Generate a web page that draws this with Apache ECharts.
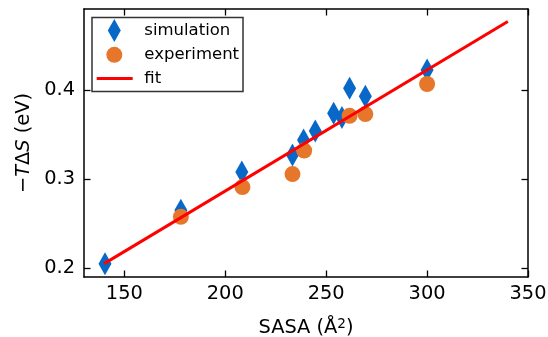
<!DOCTYPE html>
<html><head><meta charset="utf-8">
<script src="https://cdn.jsdelivr.net/npm/echarts@6/dist/echarts.min.js"></script>
<style>html,body{margin:0;padding:0;background:#fff}#c{width:548px;height:337px}</style>
</head><body><div id="c"></div>
<script>
const simSASA = [140.4, 178, 208.2, 233.3, 238.8, 244.6, 253.7, 257.8, 261.6, 269.4, 300];
const simTdS  = [0.205, 0.265, 0.308, 0.327, 0.344, 0.354, 0.374, 0.369, 0.402, 0.393, 0.4225];
const expSASA = [178, 208.5, 233.3, 239.1, 261.6, 269.4, 300];
const expTdS  = [0.2576, 0.291, 0.3056, 0.332, 0.371, 0.373, 0.4068];
const fitSASA = [140, 340];
const fitTdS  = [0.205, 0.477];
const xTicks = [150, 200, 250, 300, 350];
const yTicks = [0.2, 0.3, 0.4];

const FONT = 'DejaVu Sans';
const zip = (a, b) => a.map((v, i) => [v, b[i]]);

function xAx(pos, labels) {
  return {
    type: 'value', position: pos, min: 130, max: 350, gridIndex: 0,
    name: labels ? '{m|SASA (Å}{s|2}{m|)}' : '', nameLocation: 'middle', nameGap: 40,
    nameTextStyle: {fontFamily: FONT, fontSize: 19.4, color: '#000',
      rich: {m: {fontFamily: FONT, fontSize: 19.4, color: '#000', lineHeight: 22},
             s: {fontFamily: FONT, fontSize: 13.6, color: '#000', verticalAlign: 'top', lineHeight: 14}}},
    axisLine: {show: true, onZero: false, lineStyle: {color: '#000', width: 1.5}},
    axisTick: {show: true, inside: true, length: 6.5, customValues: xTicks, lineStyle: {color: '#000', width: 1.3}},
    axisLabel: {show: labels, customValues: xTicks, margin: 7, fontFamily: FONT, fontSize: 19.4, color: '#000'},
    splitLine: {show: false}
  };
}
function yAx(pos, labels) {
  return {
    type: 'value', position: pos, min: 0.19, max: 0.491, gridIndex: 0,
    name: labels ? '{m|−}{i|T}{m|Δ}{i|S}{m| (eV)}' : '', nameLocation: 'middle', nameGap: 49, nameRotate: 90,
    nameTextStyle: {fontFamily: FONT, fontSize: 19.4, color: '#000',
      rich: {m: {fontFamily: FONT, fontSize: 19.4, color: '#000'},
             i: {fontFamily: FONT, fontSize: 19.4, color: '#000', fontStyle: 'italic'}}},
    axisLine: {show: true, onZero: false, lineStyle: {color: '#000', width: 1.5}},
    axisTick: {show: true, inside: true, length: 6.5, customValues: yTicks, lineStyle: {color: '#000', width: 1.3}},
    axisLabel: {show: labels, customValues: yTicks, margin: 9, fontFamily: FONT, fontSize: 19.4, color: '#000',
      formatter: v => v.toFixed(1)},
    splitLine: {show: false}
  };
}

const legendBase = {orient: 'vertical', padding: 0, itemGap: 0, selectedMode: false, symbolKeepAspect: false,
  textStyle: {fontFamily: FONT, fontSize: 16.5, color: '#000'}};

const chart = echarts.init(document.getElementById('c'), null, {renderer: 'canvas'});
chart.setOption({
  animation: false,
  backgroundColor: '#fff',
  grid: {left: 84, top: 9, width: 444, height: 268, containLabel: false, outerBoundsMode: 'none'},
  xAxis: [xAx('bottom', true), xAx('top', false)],
  yAxis: [yAx('left', true), yAx('right', false)],
  graphic: [{type: 'rect', z: 3, shape: {x: 92, y: 17.5, width: 151, height: 74},
    style: {fill: '#fff', stroke: '#333', lineWidth: 1.5}}],
  legend: [
    Object.assign({}, legendBase, {left: 107.8, top: 19, itemWidth: 13, itemHeight: 23,
      data: [{name: 'simulation', icon: 'diamond'}],
      textStyle: Object.assign({}, legendBase.textStyle, {padding: [0, 0, 0, 18.5]})}),
    Object.assign({}, legendBase, {left: 106.3, top: 46.3, itemWidth: 16, itemHeight: 16,
      data: [{name: 'experiment', icon: 'circle'}],
      textStyle: Object.assign({}, legendBase.textStyle, {padding: [0, 0, 0, 17]})}),
    Object.assign({}, legendBase, {left: 96.7, top: 70, itemWidth: 36, itemHeight: 3,
      data: [{name: 'fit', icon: 'rect'}],
      textStyle: Object.assign({}, legendBase.textStyle, {padding: [0, 0, 0, 6.6]})})
  ],
  series: [
    {name: 'simulation', type: 'scatter', symbol: 'diamond', symbolSize: [13, 23], z: 2,
      itemStyle: {color: '#0868c8', opacity: 1}, data: zip(simSASA, simTdS)},
    {name: 'experiment', type: 'scatter', symbol: 'circle', symbolSize: 16, z: 3,
      itemStyle: {color: '#e6772a', opacity: 1}, data: zip(expSASA, expTdS)},
    {name: 'fit', type: 'line', symbol: 'none', z: 4, color: '#ff0000',
      lineStyle: {color: '#ff0000', width: 3}, data: zip(fitSASA, fitTdS)}
  ]
});
</script></body></html>
